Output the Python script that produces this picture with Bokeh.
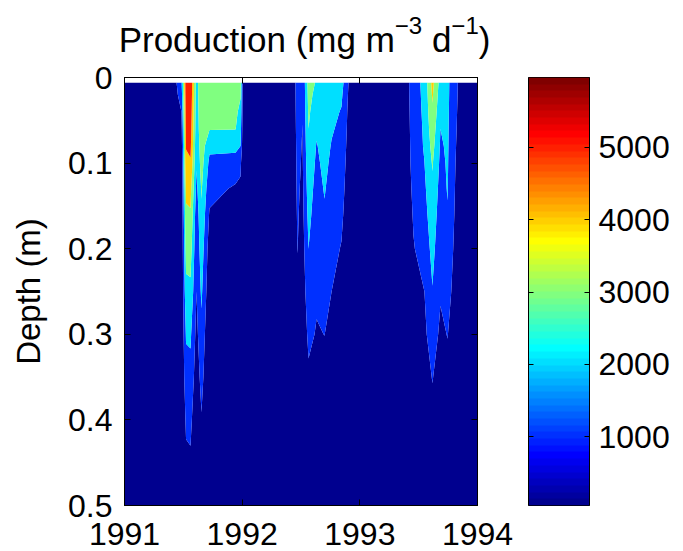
import numpy as np
from bokeh.plotting import figure
from bokeh.layouts import row, column
from bokeh.models import (Range1d, LinearAxis, FixedTicker, NumeralTickFormatter,
                          LinearColorMapper, Label, CustomLabelingPolicy)
from bokeh.embed import file_html
from bokeh.resources import INLINE

# ---------------- data ----------------
# depth of each profile sample (m)
depths = [0.006, 0.02, 0.04, 0.06, 0.08, 0.10, 0.13, 0.16, 0.20, 0.25, 0.30, 0.35, 0.40, 0.45, 0.50]

# sampling dates (decimal year)
sample_times = [1991.000, 1991.391, 1991.484, 1991.523, 1991.561, 1991.612, 1991.654,
                1991.722, 1991.943, 1991.986, 1992.011,
                1992.411, 1992.470, 1992.513, 1992.564, 1992.632, 1992.700, 1992.760,
                1992.844, 1992.946,
                1993.345, 1993.456, 1993.549, 1993.617, 1993.685, 1993.745, 1993.813,
                1993.898, 1994.000]

# production profiles (mg m-3 d-1), one list per sampling date, values at `depths`
no_bloom = [0, 0, 0, 0, 0, 0, 0, 0, 0, 0, 0, 0, 0, 0, 0]
p1991_a = [1800, 1500, 1000, 650, 450, 200, 80, 0, 0, 0, 0, 0, 0, 0, 0]
p1991_b = [5600, 5500, 5350, 5200, 5050, 4800, 4200, 3850, 3350, 2750, 2100, 1650, 1150, 820, 450]
p1991_c = [5900, 5800, 5600, 5400, 5200, 4900, 4300, 3900, 3400, 2800, 2150, 1700, 1200, 870, 500]
p1991_d = [2600, 2550, 2470, 2400, 2250, 2100, 1750, 1400, 1200, 1000, 700, 450, 300, 200, 100]
p1991_e = [3900, 3850, 3770, 3700, 3550, 3400, 3100, 2850, 2550, 2170, 1750, 1320, 930, 650, 400]
p1991_f = [3400, 3300, 3200, 3050, 2230, 1770, 1310, 900, 500, 250, 0, 0, 0, 0, 0]
p1991_g = [3400, 3320, 3200, 3030, 2320, 1520, 880, 650, 400, 200, 0, 0, 0, 0, 0]
p1991_h = [3300, 3080, 2750, 2400, 2000, 1200, 820, 600, 300, 100, 0, 0, 0, 0, 0]
p1992_a = [1400, 1370, 1330, 1290, 1240, 1200, 1150, 1090, 1020, 830, 600, 470, 330, 200, 100]
p1992_b = [1100, 1070, 1030, 990, 940, 900, 810, 720, 600, 450, 300, 200, 100, 0, 0]
p1992_c = [3400, 3300, 3150, 3000, 2860, 2710, 2500, 2290, 2000, 1610, 1210, 840, 500, 350, 200]
p1992_d = [2900, 2700, 2420, 2140, 1940, 1810, 1620, 1460, 1310, 1130, 930, 720, 500, 400, 300]
p1992_e = [2700, 2630, 2540, 2450, 2350, 2240, 2070, 1890, 1640, 1320, 1010, 700, 400, 300, 200]
p1992_f = [2600, 2470, 2280, 2090, 1940, 1810, 1620, 1450, 1250, 1000, 700, 400, 200, 0, 0]
p1992_g = [2400, 2170, 1930, 1790, 1640, 1500, 1330, 1170, 950, 730, 500, 250, 0, 0, 0]
p1993_a = [1500, 1470, 1420, 1380, 1340, 1300, 1190, 1080, 950, 830, 700, 500, 300, 150, 0]
p1993_b = [2300, 2260, 2210, 2150, 2100, 1990, 1810, 1630, 1350, 1000, 800, 600, 400, 200, 100]
p1993_c = [4300, 4120, 3870, 3610, 3340, 3080, 2830, 2610, 2320, 1950, 1500, 1040, 760, 500, 300]
p1993_d = [2600, 2440, 2220, 2000, 1890, 1780, 1610, 1450, 1260, 1100, 800, 600, 400, 250, 100]
p1993_e = [2200, 2190, 2170, 2140, 2120, 2090, 2050, 1940, 1680, 1360, 1030, 740, 500, 350, 200]
p1993_f = [1300, 1260, 1190, 1130, 1060, 1000, 920, 840, 730, 600, 500, 400, 300, 150, 0]

profiles = [no_bloom, no_bloom, p1991_a, p1991_b, p1991_c, p1991_d, p1991_e,
            p1991_f, p1991_g, p1991_h, no_bloom,
            no_bloom, p1992_a, p1992_b, p1992_c, p1992_d, p1992_e, p1992_f,
            p1992_g, no_bloom,
            no_bloom, p1993_a, p1993_b, p1993_c, p1993_d, p1993_e, p1993_f,
            no_bloom, no_bloom]

contour_levels = [-1, 1000, 2000, 3000, 4000, 5000, 6000]
cbar_low, cbar_high = 48, 5966
year_ticks = [1991, 1992, 1993, 1994]
depth_ticks = [0, 0.1, 0.2, 0.3, 0.4, 0.5]
cbar_ticks = [1000, 2000, 3000, 4000, 5000]

# ---------------- styling helpers ----------------
FONT = "Liberation Sans"


def jet64():
    def u(i):
        if 1 <= i <= 16:
            return i / 16
        if 17 <= i <= 31:
            return 1.0
        if 32 <= i <= 47:
            return (48 - i) / 16
        return 0.0
    cols = []
    for k in range(1, 65):
        r, g, b = u(k - 24), u(k - 8), u(k + 8)
        cols.append("#%02x%02x%02x" % (round(r * 255), round(g * 255), round(b * 255)))
    return cols


JET = jet64()


def jet_for(v):
    idx = int((v - cbar_low) / (cbar_high - cbar_low) * 64)
    return JET[min(max(idx, 0), 63)]


band_colors = [jet_for(l) for l in contour_levels[:-1]]

NO_LABELS = CustomLabelingPolicy(code="""
    for (const i of indices) { indices.unset(i) }
    return indices
""")

# layout constants (pixels)
LEFT, RIGHT_MAIN, TOP, BOTTOM = 124, 40, 17, 46
FRAME_W, FRAME_H = 353, 428
H = TOP + FRAME_H + BOTTOM
TITLE_H = 60

p = figure(width=LEFT + FRAME_W + RIGHT_MAIN, height=H, title=None,
           x_range=Range1d(1991, 1994), y_range=Range1d(0.5, 0),
           toolbar_location=None, output_backend="svg",
           min_border_left=LEFT, min_border_right=RIGHT_MAIN,
           min_border_top=TOP, min_border_bottom=BOTTOM,
           background_fill_color="white", border_fill_color="white")
p.xgrid.visible = False
p.ygrid.visible = False
p.outline_line_color = "black"
p.outline_line_width = 1

p.contour(np.array(sample_times), np.array(depths), np.array(profiles, dtype=float).T,
          contour_levels, fill_color=band_colors, line_color=None)


def style_axis(ax, show_labels=True, standoff=10, size="32px"):
    ax.axis_line_color = "black"
    ax.major_tick_line_color = "black"
    ax.major_tick_in = 6
    ax.major_tick_out = 0
    ax.minor_tick_line_color = None
    ax.major_label_text_font = FONT
    ax.major_label_text_color = "black"
    ax.major_label_standoff = standoff
    ax.major_label_text_font_size = size
    if not show_labels:
        ax.major_label_text_font_size = "2px"
        ax.major_label_standoff = 0
        ax.major_label_policy = NO_LABELS


xb = p.xaxis[0]
xb.ticker = FixedTicker(ticks=year_ticks)
xb.formatter = NumeralTickFormatter(format="0")
style_axis(xb, standoff=17)

yl = p.yaxis[0]
yl.ticker = FixedTicker(ticks=depth_ticks)
yl.formatter = NumeralTickFormatter(format="0.[0]")
style_axis(yl, standoff=12)
yl.axis_label = "Depth (m)"
yl.axis_label_text_font = FONT
yl.axis_label_text_font_size = "33px"
yl.axis_label_text_font_style = "normal"
yl.axis_label_text_color = "black"
yl.axis_label_standoff = 18

xt = LinearAxis(ticker=FixedTicker(ticks=year_ticks))
style_axis(xt, show_labels=False)
p.add_layout(xt, "above")
yr = LinearAxis(ticker=FixedTicker(ticks=depth_ticks))
style_axis(yr, show_labels=False)
p.add_layout(yr, "right")

# ---------------- colour bar ----------------
CB_LEFT, CB_W, CB_RIGHT = 11, 61, 94
cb = figure(width=CB_LEFT + CB_W + CB_RIGHT, height=H, title=None,
            x_range=Range1d(0, 1), y_range=Range1d(cbar_low, cbar_high),
            x_axis_location=None, y_axis_location="right",
            toolbar_location=None, output_backend="svg",
            min_border_left=CB_LEFT, min_border_right=CB_RIGHT,
            min_border_top=TOP, min_border_bottom=BOTTOM,
            border_fill_color="white")
cb.xgrid.visible = False
cb.ygrid.visible = False
cb.outline_line_color = "black"
mapper = LinearColorMapper(palette=JET, low=cbar_low, high=cbar_high)
ramp = np.linspace(cbar_low, cbar_high, 64).reshape(64, 1)
cb.image(image=[ramp], x=0, y=cbar_low, dw=1, dh=cbar_high - cbar_low, color_mapper=mapper)

cr = cb.yaxis[0]
cr.ticker = FixedTicker(ticks=cbar_ticks)
cr.formatter = NumeralTickFormatter(format="0")
style_axis(cr, standoff=9)
cr.major_tick_in = 5
cl = LinearAxis(ticker=FixedTicker(ticks=cbar_ticks))
style_axis(cl, show_labels=False)
cl.major_tick_in = 5
cb.add_layout(cl, "left")

# ---------------- title (with superscripts) ----------------
TOTAL_W = LEFT + FRAME_W + RIGHT_MAIN + CB_LEFT + CB_W + CB_RIGHT
tf = figure(width=TOTAL_W, height=TITLE_H, title=None, x_range=Range1d(0, TOTAL_W),
            y_range=Range1d(0, TITLE_H), toolbar_location=None, output_backend="svg",
            min_border=0, x_axis_location=None, y_axis_location=None,
            outline_line_color=None, border_fill_color="white")
tf.xgrid.visible = False
tf.ygrid.visible = False

ARIAL = {'P': 667, 'r': 333, 'o': 556, 'd': 556, 'u': 556, 'c': 500, 't': 278, 'i': 222,
         'n': 556, ' ': 278, '(': 333, ')': 333, 'm': 833, 'g': 556, '\u2212': 584,
         '3': 556, '1': 556}


def tw(s, size):
    return sum(ARIAL[ch] for ch in s) * size / 1000


MAIN, SUP, RAISE = 35, 24, 14
# (text, font size, raise, extra gap before the piece)
pieces = [("Production (mg m", MAIN, 0, 0), ("\u22123", SUP, RAISE, 0),
          ("d", MAIN, 0, tw(" ", MAIN)), ("\u22121", SUP, RAISE, 0), (")", MAIN, 0, 0)]
total = sum(tw(s, sz) + gap for s, sz, _, gap in pieces)
xpos = 304 - total / 2          # centred over the plot, as in the original
baseline = 21                   # puts the text baseline about 50 px from the top
for s, sz, raise_px, gap in pieces:
    xpos += gap
    tf.add_layout(Label(x=xpos, y=baseline + raise_px, text=s, text_font=FONT,
                        text_font_size=f"{sz}px", text_color="black",
                        text_baseline="alphabetic", text_align="left"))
    xpos += tw(s, sz)

layout = column(tf, row(p, cb))
open("out.html", "w").write(file_html(layout, INLINE))
